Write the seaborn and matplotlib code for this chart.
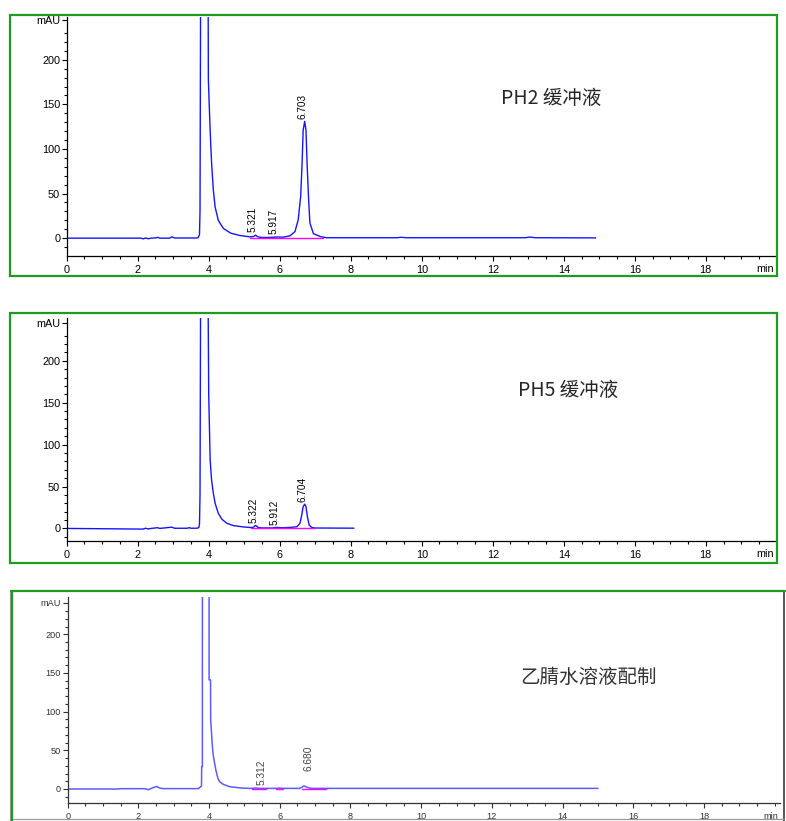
import numpy as np
import matplotlib
matplotlib.use("Agg")
import matplotlib.pyplot as plt
import seaborn as sns
from matplotlib.patches import Rectangle
from matplotlib.lines import Line2D
from matplotlib.ticker import MultipleLocator, FixedLocator

# ---------------- chromatogram traces (time in min, signal in mAU) ----------------
ph2_time = [0.0, 2.10, 2.15, 2.22, 2.30, 2.38, 2.50, 2.56, 2.62, 2.90, 2.96, 3.04, 3.65, 3.70,
            3.74, 3.755, 3.77, 3.85, 3.90, 3.985, 3.99, 4.01, 4.04, 4.08, 4.13, 4.18, 4.27,
            4.41, 4.62, 4.88, 5.16, 5.26, 5.32, 5.38, 5.48, 5.70, 5.917, 6.10, 6.29, 6.43,
            6.52, 6.59, 6.63, 6.66, 6.703, 6.74, 6.77, 6.81, 6.85, 6.95, 7.14, 7.32, 9.30,
            9.42, 9.55, 12.90, 13.05, 13.20, 14.90]
ph2_signal = [0.0, 0.0, -0.8, 0.2, -0.6, 0.0, 0.3, 0.9, 0.0, 0.0, 1.5, 0.2, 0.2, 0.5,
              4.0, 30, 250, 2500, 2500, 250, 178, 155, 121, 85, 54, 35, 20,
              11, 5.6, 3.0, 1.5, 1.8, 3.4, 1.6, 0.8, 0.8, 1.3, 1.1, 2.6, 7.4,
              20.5, 46.7, 84, 121, 131, 121, 84, 46.7, 17, 5, 1.8, 0.5, 0.5,
              1.0, 0.5, 0.5, 1.2, 0.5, 0.3]

ph5_time = [0.0, 2.15, 2.22, 2.30, 2.38, 2.56, 2.62, 2.96, 3.04, 3.40, 3.45, 3.50, 3.68, 3.72,
            3.74, 3.755, 3.77, 3.85, 3.90, 3.985, 4.00, 4.04, 4.08, 4.13, 4.18, 4.27, 4.37,
            4.51, 4.69, 4.97, 5.20, 5.26, 5.322, 5.39, 5.50, 5.80, 5.912, 6.05, 6.30, 6.48,
            6.57, 6.62, 6.66, 6.704, 6.74, 6.78, 6.83, 6.90, 7.00, 8.09]
ph5_signal = [0.0, -0.8, 0.2, -0.6, 0.0, 0.9, 0.0, 1.5, 0.2, 0.2, 1.0, 0.2, 0.3, 1.0,
              5, 40, 255, 2500, 2500, 255, 160, 82, 57.8, 42, 30, 18, 11,
              6.2, 3.4, 1.8, 1.0, 1.5, 3.6, 1.2, 0.6, 0.6, 1.2, 0.8, 1.2, 2.0,
              6, 16, 26, 29, 26, 14, 4, 1.2, 0.5, 0.3]

acn_time = [0.0, 1.40, 1.50, 2.20, 2.28, 2.40, 2.51, 2.60, 2.69, 3.70, 3.76, 3.785, 3.79,
            3.81, 3.815, 3.99, 4.00, 4.04, 4.045, 4.07, 4.08, 4.11, 4.14, 4.19, 4.25, 4.30,
            4.40, 4.58, 4.82, 5.00, 5.20, 5.312, 5.42, 5.90, 6.00, 6.10, 6.55, 6.62, 6.68,
            6.76, 6.85, 6.95, 15.00]
acn_signal = [0.0, 0.0, 0.4, 0.4, -1.0, 1.5, 3.3, 1.3, 0.5, 0.5, 3.0, 4.0, 29,
              29, 2500, 2500, 141, 141, 89, 72, 63, 46, 37.5, 24.6, 13.8, 9.4,
              6.0, 3.0, 1.7, 1.0, 0.8, 1.3, 0.8, 0.8, 1.2, 0.8, 0.8, 2.0, 4.0,
              2.5, 1.0, 0.8, 0.8]

# integration baselines (start, end in min)
ph2_base_start, ph2_base_end = [5.16], [7.23]
ph5_base_start, ph5_base_end = [5.20], [7.00]
acn_base_start, acn_base_end = [5.20, 5.90, 6.62], [5.60, 6.10, 7.30]

# integrated peaks (retention times)
ph2_peaks = [5.321, 5.917, 6.703]
ph5_peaks = [5.322, 5.912, 6.704]
acn_peaks = [5.312, 6.680]

titles = ["PH2 缓冲液", "PH5 缓冲液", "乙腈水溶液配制"]
x_major = [0, 2, 4, 6, 8, 10, 12, 14, 16, 18]
y_major = [0, 50, 100, 150, 200]

# ---------------- figure ----------------
sns.set_theme(style="white")
plt.rcParams["font.family"] = ["Liberation Sans", "DejaVu Sans"]

W, H = 786, 821
fig = plt.figure(figsize=(W / 100, H / 100), dpi=100)
fig.patch.set_facecolor("white")

GREEN = "#1f9c1f"
CJK = ["Noto Sans CJK SC", "DejaVu Sans"]
NARROW = ["Liberation Sans Narrow", "Liberation Sans", "DejaVu Sans"]


def px_axes(left, right, top, bottom):
    return fig.add_axes([left / W, 1 - bottom / H, (right - left) / W, (bottom - top) / H])


def style_axes(ax, xlim, ylim, mau_at, tick_size, tick_color, spine_color):
    ax.set_xlim(*xlim)
    ax.set_ylim(*ylim)
    ax.set_facecolor("white")
    for s in ("top", "right"):
        ax.spines[s].set_visible(False)
    for s in ("left", "bottom"):
        ax.spines[s].set_visible(True)
        ax.spines[s].set_color(spine_color)
        ax.spines[s].set_linewidth(0.9)
    ax.xaxis.set_major_locator(FixedLocator(x_major))
    ax.set_xticklabels([str(v) for v in x_major])
    ax.xaxis.set_minor_locator(MultipleLocator(0.5))
    ax.yaxis.set_major_locator(FixedLocator(y_major + [mau_at]))
    ax.set_yticklabels([str(v) for v in y_major] + ["mAU"])
    ax.yaxis.set_minor_locator(FixedLocator(list(range(-10, 240, 10))))
    ax.tick_params(axis="both", which="both", direction="out", colors=spine_color,
                   labelcolor=tick_color, labelsize=tick_size, width=0.8,
                   bottom=True, left=True)
    ax.tick_params(axis="x", which="major", length=3.5, pad=3.2)
    ax.tick_params(axis="x", which="minor", length=2.2)
    ax.tick_params(axis="y", which="major", length=3.5, pad=1.2)
    ax.tick_params(axis="y", which="minor", length=2.0)
    ax.set_xlabel("")
    ax.set_ylabel("")
    ax.grid(False)
    ax.annotate("min", xy=(1, 0), xycoords="axes fraction", xytext=(-1, -11.5),
                textcoords="offset points", ha="right", va="baseline",
                fontsize=tick_size, color=tick_color)


def draw_panel(ax, t, s, color, lw, b_start, b_end, peaks, offsets, label_font,
               label_size, label_color):
    sns.lineplot(x=t, y=s, ax=ax, color=color, linewidth=lw, estimator=None, sort=False)
    for a, b in zip(b_start, b_end):
        ax.plot([a, b], [0, 0], color="#ff00ff", lw=1.0, zorder=3)
    for rt, (dx, dy) in zip(peaks, offsets):
        y = float(np.interp(rt, t, s))
        ax.annotate(f"{rt:.3f}", xy=(rt, y), xytext=(dx, dy), textcoords="offset points",
                    rotation=90, ha="center", va="bottom", fontsize=label_size,
                    family=label_font, color=label_color)


# Panel 1: pH 2 buffer
ax1 = px_axes(66.7, 775, 17, 256)
draw_panel(ax1, ph2_time, ph2_signal, "#1414ff", 1.0, ph2_base_start, ph2_base_end,
           ph2_peaks, [(-2, 2), (-2, 2), (-1.5, 1.8)], NARROW, 7.2, "black")
style_axes(ax1, (0, 19.95), (-20, 248), 245, 7.8, "black", "black")

# Panel 2: pH 5 buffer
ax2 = px_axes(66.7, 775, 318, 541)
draw_panel(ax2, ph5_time, ph5_signal, "#1414ff", 1.0, ph5_base_start, ph5_base_end,
           ph5_peaks, [(-1.5, 1.8), (-1.5, 1.8), (-1.5, 1.8)], NARROW, 7.2, "black")
style_axes(ax2, (0, 19.95), (-15, 251), 244.6, 7.8, "black", "black")

# Panel 3: acetonitrile / water
ax3 = px_axes(67.7, 780, 596.7, 803)
draw_panel(ax3, acn_time, acn_signal, "#5c5cff", 1.1, acn_base_start, acn_base_end,
           acn_peaks, [(4.5, 2.3), (3.4, 10.5)], ["Liberation Sans", "DejaVu Sans"], 7.3,
           "#444444")
style_axes(ax3, (0, 20.15), (-18.1, 248.6), 241, 6.6, "#333333", "#333333")

# panel captions
fig.text(501 / W, 1 - 98 / H, titles[0], fontsize=14, family=CJK, color="#262626",
         ha="left", va="center")
fig.text(518 / W, 1 - 390 / H, titles[1], fontsize=14, family=CJK, color="#262626",
         ha="left", va="center")
fig.text(520 / W, 1 - 677 / H, titles[2], fontsize=14, family=CJK, color="#333333",
         ha="left", va="center")

# report frames
fig.add_artist(Rectangle((10 / W, 1 - 276 / H), 767 / W, 261 / H, transform=fig.transFigure,
                         fill=False, ec=GREEN, lw=1.6))
fig.add_artist(Rectangle((10 / W, 1 - 563 / H), 767 / W, 250.3 / H, transform=fig.transFigure,
                         fill=False, ec=GREEN, lw=1.6))


def fig_line(x0, y0, x1, y1, color, lw):
    fig.add_artist(Line2D([x0 / W, x1 / W], [1 - y0 / H, 1 - y1 / H],
                          transform=fig.transFigure, color=color, lw=lw))


fig_line(9.5, 591, 9.5, 821, "#9a9a9a", 0.8)
fig_line(784, 591, 784, 821, "#3a3a3a", 1.2)
fig_line(10, 818.5, 784, 818.5, "#9a9a9a", 0.9)
fig_line(11.5, 591, 11.5, 821, GREEN, 1.6)
fig_line(11, 591, 784.5, 591, GREEN, 1.6)

fig.savefig("out.png", dpi=100, facecolor="white")
